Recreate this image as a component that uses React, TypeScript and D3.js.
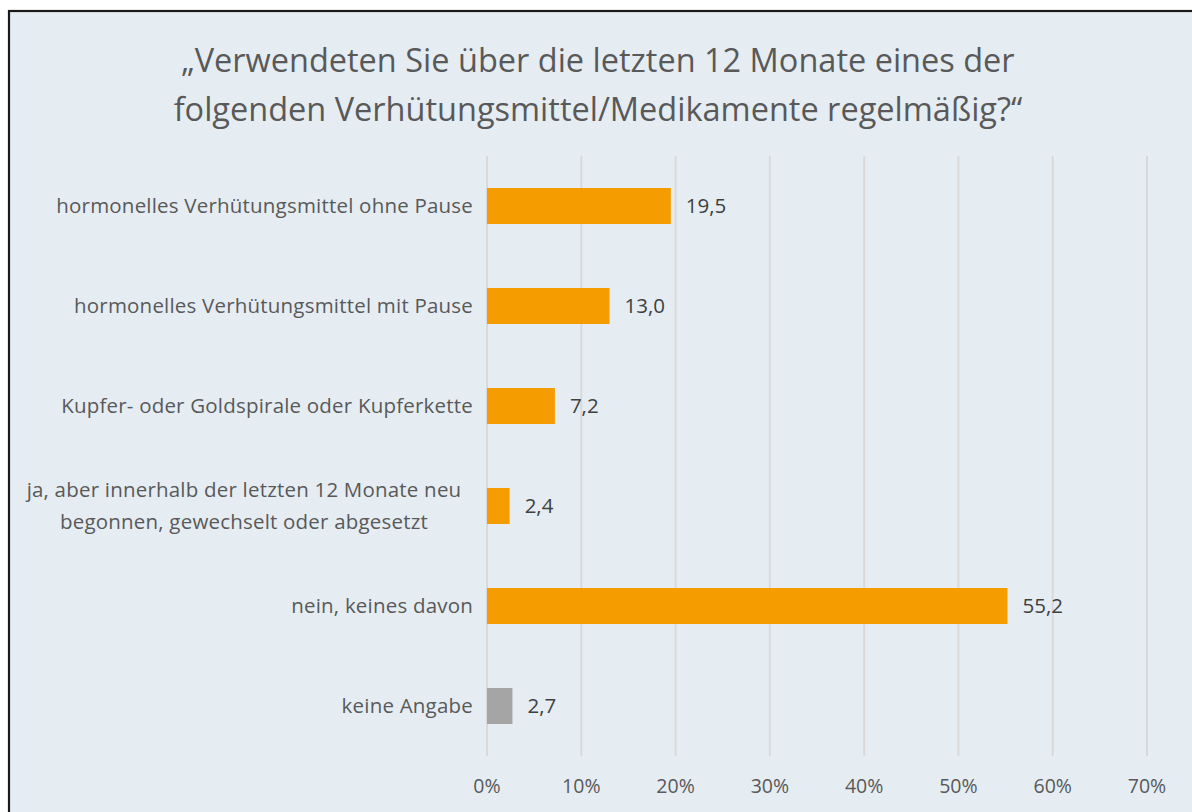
import React from "react";
import * as d3 from "d3";

const categories: string[][] = [
  ["hormonelles Verhütungsmittel ohne Pause"],
  ["hormonelles Verhütungsmittel mit Pause"],
  ["Kupfer- oder Goldspirale oder Kupferkette"],
  ["ja, aber innerhalb der letzten 12 Monate neu", "begonnen, gewechselt oder abgesetzt"],
  ["nein, keines davon"],
  ["keine Angabe"],
];
const values: number[] = [19.5, 13.0, 7.2, 2.4, 55.2, 2.7];
const barColors: string[] = ["#F59C00", "#F59C00", "#F59C00", "#F59C00", "#F59C00", "#A5A5A5"];
const ticks: number[] = [0, 10, 20, 30, 40, 50, 60, 70];
const titleLines: string[] = [
  "„Verwendeten Sie über die letzten 12 Monate eines der",
  "folgenden Verhütungsmittel/Medikamente regelmäßig?“",
];

const W = 1192;
const H = 812;
const FONT = "'Open Sans', sans-serif";

export default function App() {
  const x = d3.scaleLinear().domain([0, 70]).range([487, 1147]);
  const y = d3
    .scaleBand<number>()
    .domain(d3.range(categories.length))
    .range([156, 756])
    .paddingInner(0.64)
    .paddingOuter(0.32);

  return (
    <svg
      width={W}
      height={H}
      style={{ position: "absolute", left: 0, top: 0, display: "block" }}
    >
      <rect x={0} y={0} width={W} height={H} fill="#ffffff" />
      <rect x={9} y={11} width={W + 10} height={H + 10} fill="#E5EDF3" stroke="#1a1a1a" strokeWidth={2.2} />
      {titleLines.map((t, i) => (
        <text
          key={i}
          x={598}
          y={72 + i * 49}
          textAnchor="middle"
          fontFamily={FONT}
          fontSize={32.5}
          fill="#595959"
        >
          {t}
        </text>
      ))}
      {ticks.map((t) => (
        <g key={t}>
          <line x1={x(t)} x2={x(t)} y1={156} y2={756} stroke="#D9D9D9" strokeWidth={2} />
          <text
            x={x(t)}
            y={793}
            textAnchor="middle"
            fontFamily={FONT}
            fontSize={19.5}
            fill="#595959"
          >
            {t}%
          </text>
        </g>
      ))}
      {values.map((v, i) => {
        const yc = (y(i) as number) + y.bandwidth() / 2;
        const lines = categories[i];
        return (
          <g key={i}>
            <rect
              x={x(0)}
              y={y(i) as number}
              width={x(v) - x(0)}
              height={y.bandwidth()}
              fill={barColors[i]}
            />
            <text
              x={x(v) + 15}
              y={yc + 7}
              fontFamily={FONT}
              fontSize={20.5}
              fill="#404040"
            >
              {v.toFixed(1).replace(".", ",")}
            </text>
            {lines.map((l, j) => (
              <text
                key={j}
                x={lines.length > 1 ? 244 : 473}
                y={yc + 7 + (j - (lines.length - 1) / 2) * 32}
                textAnchor={lines.length > 1 ? "middle" : "end"}
                fontFamily={FONT}
                fontSize={20.5}
                letterSpacing={0.2}
                fill="#595959"
              >
                {l}
              </text>
            ))}
          </g>
        );
      })}
    </svg>
  );
}
